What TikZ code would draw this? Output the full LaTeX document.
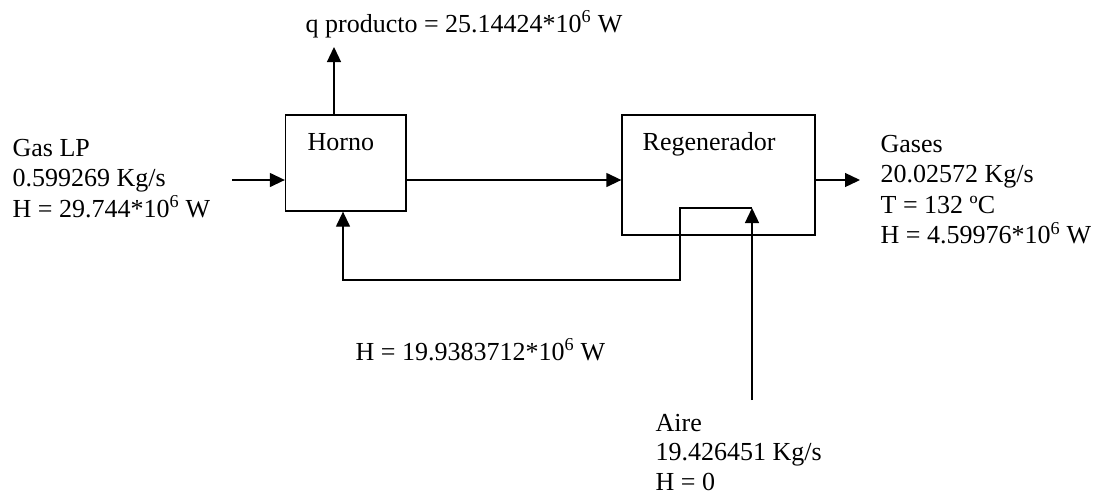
\documentclass[tikz,border=0pt]{standalone}
\usepackage{fontspec}
\setmainfont{Liberation Serif}
\usetikzlibrary{arrows.meta}
\newcommand\linesof[1]{\vtop{#1}}
\begin{document}
\begin{tikzpicture}[x=1pt,y=-1pt,
  line width=1.3pt,
  blockbox/.style={draw,line width=1.3pt,inner sep=0pt,rectangle},
  lbl/.style={anchor=base west,inner sep=0pt,font=\fontsize{26}{30.5}\selectfont},
  flow/.style={line width=1.3pt,-{Triangle[length=15pt,width=14pt]}}]
\useasboundingbox (0,0) rectangle (1100,496);

% blocks
\node[blockbox,minimum width=120.5pt,minimum height=96pt] (horno) at (345.75,163) {};
\node[blockbox,minimum width=193pt,minimum height=120pt] (regen) at (718.5,175) {};

% labels
\node[lbl] (hornolbl) at (307,150) {Horno};
\node[lbl] (regenlbl) at (642,150) {Regenerador};
\node[lbl] (qlbl) at (305,32) {q producto = 25.14424*10\textsuperscript{6} W};
\node[lbl] (gaslbl) at (12,156) {\linesof{\hbox{Gas LP}\hbox{0.599269 Kg/s}\hbox{H = 29.744*10\textsuperscript{6} W}}};
\node[lbl] (gaseslbl) at (880,152) {\linesof{\hbox{Gases}\hbox{20.02572 Kg/s}\hbox{T = 132 ºC}\hbox{H = 4.59976*10\textsuperscript{6} W}}};
\node[lbl] (hretlbl) at (355,360) {H = 19.9383712*10\textsuperscript{6} W};
\node[lbl,font=\fontsize{26}{29.5}\selectfont] (airelbl) at (655,431) {\linesof{\hbox{Aire}\hbox{19.426451 Kg/s}\hbox{H = 0}}};

% coordinates
\coordinate (gasin) at (232,180);
\coordinate (qtip) at (334,47);
\coordinate (gasout) at (860,180);
\coordinate (airein) at (752,400);
\coordinate (loopc) at (680,208);
\coordinate (loopb) at (343,280);

% connectors
\draw[flow] (gasin) -- (gasin -| horno.west);
\draw[flow] (qtip |- horno.north) -- (qtip);
\draw[flow] (gasin -| horno.east) -- (gasin -| regen.west);
\draw[flow] (gasin -| regen.east) -- (gasout);
\draw[flow] (airein) -- (airein |- loopc);
\draw[flow] (airein |- loopc) -- (loopc) |- (loopb) -- (loopb |- horno.south);
\end{tikzpicture}
\end{document}
